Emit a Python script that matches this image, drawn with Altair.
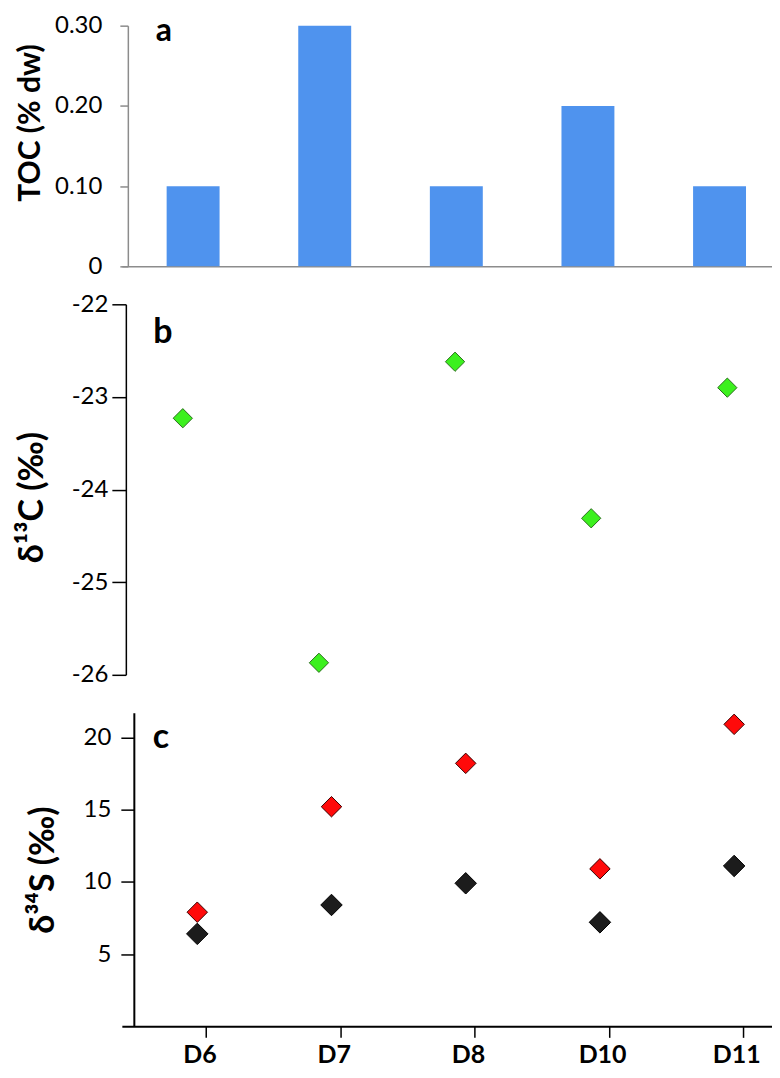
import altair as alt
import pandas as pd

# ---- data ----
samples = ["D6", "D7", "D8", "D10", "D11"]
toc = [0.10, 0.30, 0.10, 0.20, 0.10]
d13c = [-23.23, -25.87, -22.62, -24.31, -22.90]
d34s_red = [7.9, 15.2, 18.2, 10.9, 20.9]
d34s_black = [6.4, 8.4, 9.9, 7.2, 11.1]
toc_ticks = [0, 0.1, 0.2, 0.3]
d13c_ticks = [-22, -23, -24, -25, -26]
d34s_ticks = [5, 10, 15, 20]

FONT = "Lato"
W = 651
GRAY = "#8c8c8c"
BLUE = "#4f93ee"
GREEN = "#3cf01e"
GREEN_EDGE = "#2a6e1c"
RED = "#ff0a0a"
BLACK = "#1c1c1c"

df_a = pd.DataFrame({"sample": samples, "toc": toc})
df_b = pd.DataFrame({"sample": samples, "d13c": d13c})
df_red = pd.DataFrame({"sample": samples, "d34s": d34s_red})
df_black = pd.DataFrame({"sample": samples, "d34s": d34s_black})


def letter(ch, x, y, size=34):
    return alt.Chart(pd.DataFrame({"t": [ch]})).mark_text(
        font=FONT, fontSize=size, fontWeight="bold", align="center",
        baseline="alphabetic", color="black"
    ).encode(text="t:N", x=alt.value(x), y=alt.value(y))


# ---- panel a: TOC bars ----
xa = alt.X("sample:N", sort=samples,
           scale=alt.Scale(type="point", padding=0.47, align=0.576),
           axis=alt.Axis(title=None, labels=False, ticks=False,
                         domainColor=GRAY, domainWidth=1.5))
ya = alt.Y("toc:Q", scale=alt.Scale(domain=[0, 0.3], nice=False),
           axis=alt.Axis(values=toc_ticks,
                         labelExpr="datum.value == 0 ? '0' : format(datum.value, '.2f')",
                         title="TOC (% dw)", titleFontSize=30, titleFontWeight="bold",
                         titlePadding=9, titleY=97, offset=-6,
                         domainColor=GRAY, tickColor=GRAY, domainWidth=1.5, tickWidth=1.5,
                         tickSize=8, labelPadding=18, labelFontSize=24))
bars = alt.Chart(df_a).mark_bar(size=53, color=BLUE).encode(x=xa, y=ya)
panel_a = alt.layer(bars, letter("a", 42, 15, 32)).properties(width=W, height=241)

# ---- panel b: d13C ----
xb = alt.X("sample:N", sort=samples,
           scale=alt.Scale(type="point", padding=0.388, align=0.577), axis=None)
yb = alt.Y("d13c:Q", scale=alt.Scale(domain=[-26, -22], nice=False, zero=False),
           axis=alt.Axis(values=d13c_ticks, labelExpr="datum.value + ''",
                         title="δ¹³C (‰)", titleFontSize=34, titleFontWeight="bold",
                         titlePadding=22, titleY=193, offset=-4,
                         domainColor="black", tickColor="black", domainWidth=1.5,
                         tickWidth=1.5, tickSize=14, labelPadding=4, labelFontSize=24))
pts_b = alt.Chart(df_b).mark_point(
    shape="diamond", filled=True, fill=GREEN, stroke=GREEN_EDGE, strokeWidth=1,
    size=372, opacity=1
).encode(x=xb, y=yb)
panel_b = alt.layer(pts_b, letter("b", 41, 39)).properties(width=W, height=371)

# ---- panel c: d34S ----
xc = alt.X("sample:N", sort=samples, bandPosition=0.3,
           scale=alt.Scale(type="band", paddingInner=0.9, paddingOuter=0.372, align=0.715),
           axis=alt.Axis(title=None, labelFontSize=25, labelFontWeight="bold",
                         labelAngle=0, tickSize=11, tickWidth=1.5, domainWidth=2,
                         domainColor="black", tickColor="black", labelPadding=5,
                         bandPosition=1))
yc = alt.Y("d34s:Q", scale=alt.Scale(domain=[0, 21.7], nice=False),
           axis=alt.Axis(values=d34s_ticks, title="δ³⁴S (‰)", titleFontSize=34,
                         titleFontWeight="bold", titlePadding=23, offset=-12,
                         domainColor="black", tickColor="black", domainWidth=2,
                         tickWidth=1.5, tickSize=13, labelPadding=10, labelFontSize=24))
red_pts = alt.Chart(df_red).mark_point(
    shape="diamond", filled=True, fill=RED, stroke="#3a0000", strokeWidth=1,
    size=420, opacity=1
).encode(x=xc, y=yc)
black_pts = alt.Chart(df_black).mark_point(
    shape="diamond", filled=True, fill=BLACK, stroke="#000000", strokeWidth=1,
    size=462, opacity=1
).encode(x=xc, y=yc)
panel_c = alt.layer(red_pts, black_pts, letter("c", 39, 35)).properties(width=W, height=314)

chart = alt.vconcat(panel_a, panel_b, panel_c, spacing=38, bounds="flush").properties(
    padding={"left": 7, "top": 5, "right": 0, "bottom": 0}
).configure_view(stroke=None).configure_axis(
    grid=False, labelFont=FONT, titleFont=FONT, labelColor="black", titleColor="black"
)

chart.save("out.html", embed_options={"renderer": "svg", "actions": False})
